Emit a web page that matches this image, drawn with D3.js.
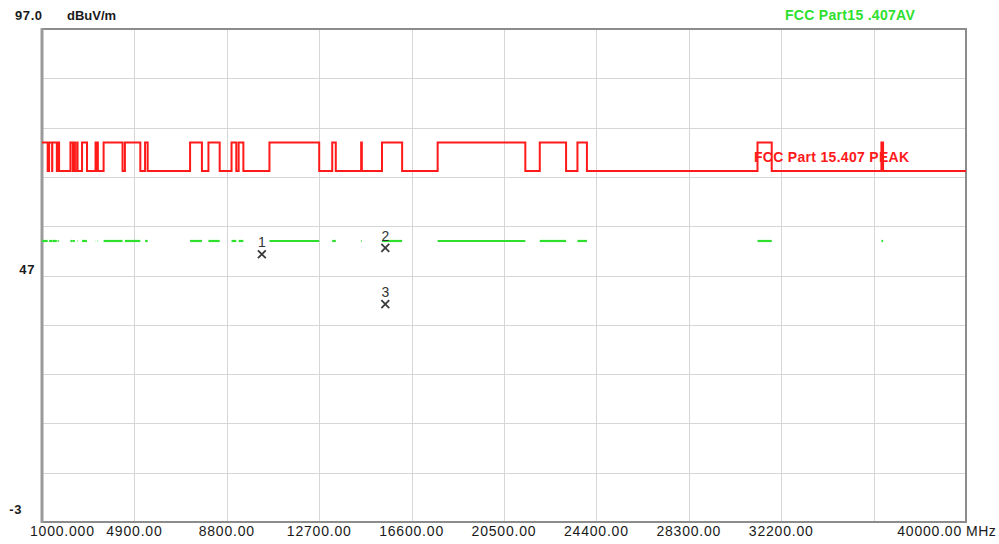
<!DOCTYPE html>
<html>
<head>
<meta charset="utf-8">
<script src="https://cdn.jsdelivr.net/npm/d3@7"></script>
<style>
  html, body { margin: 0; padding: 0; background: #fff; }
  svg { display: block; font-family: "Liberation Sans", Arial, sans-serif; }
</style>
</head>
<body>
<svg id="chart" width="999" height="544"></svg>
<script>
// Frequency axis (MHz) and level axis (dBuV/m)
const freqDomain = [1000, 40000];
const levelDomain = [-3, 97];
const freqTicks = [1000, 4900, 8800, 12700, 16600, 20500, 24400, 28300, 32200, 36100, 40000];
const freqTickLabels = ["1000.000", "4900.00", "8800.00", "12700.00", "16600.00", "20500.00", "24400.00", "28300.00", "32200.00", "", "40000.00"];
const levelGrid = [87, 77, 67, 57, 47, 37, 27, 17, 7];
const levelTicks = [97, 47, -3];
const levelTickLabels = ["97.0", "47", "-3"];

// Restricted bands (MHz) where the tighter limits apply
const restrictedStart = [960, 1300, 1435, 1645.5, 1660, 1718.8, 2200, 2310, 2483.5, 2690, 3260, 3332, 3345.8, 3600, 4500, 5350, 7250, 8025, 9000, 9300, 10600, 13250, 14470, 15350, 17700, 22010, 23600, 31200, 36430];
const restrictedEnd   = [1240, 1427, 1626.5, 1646.5, 1710, 1722.2, 2300, 2390, 2500, 2900, 3267, 3339, 3358, 4400, 5150, 5460, 7750, 8500, 9200, 9500, 12700, 13400, 14500, 16200, 21400, 23120, 24000, 31800, 36500];

// Limit levels (dBuV/m)
const peakRestricted = 74;
const peakOther = 68.2;
const avgRestricted = 54;

// Measured markers
const markerIds = ["1", "2", "3"];
const markerFreq = [10280, 15490, 15490];
const markerLevel = [51.3, 52.6, 41.2];

const svg = d3.select("#chart");
const plot = { left: 42, right: 966, top: 29, bottom: 522 };

const x = d3.scaleLinear().domain(freqDomain).range([plot.left, plot.right]);
const y = d3.scaleLinear().domain(levelDomain).range([plot.bottom, plot.top]);

// Grid
const grid = svg.append("g").attr("stroke", "#d6d6d6").attr("stroke-width", 1);
grid.selectAll("line.v").data(freqTicks.slice(1, -1)).join("line")
  .attr("x1", d => Math.round(x(d)) + 0.5).attr("x2", d => Math.round(x(d)) + 0.5)
  .attr("y1", plot.top).attr("y2", plot.bottom);
grid.selectAll("line.h").data(levelGrid).join("line")
  .attr("x1", plot.left).attr("x2", plot.right)
  .attr("y1", d => Math.round(y(d)) + 0.5).attr("y2", d => Math.round(y(d)) + 0.5);

// Frame
svg.append("rect")
  .attr("x", plot.left).attr("y", plot.top)
  .attr("width", plot.right - plot.left).attr("height", plot.bottom - plot.top)
  .attr("fill", "none").attr("stroke", "#8c8c8c").attr("stroke-width", 2);
svg.append("line")
  .attr("x1", plot.left).attr("x2", plot.left)
  .attr("y1", plot.top - 1).attr("y2", plot.bottom + 1)
  .attr("stroke", "#9a9a9a").attr("stroke-width", 3);

// Bands clipped to the sweep range
const bands = restrictedStart.map((s, i) => [Math.max(s, freqDomain[0]), Math.min(restrictedEnd[i], freqDomain[1])])
  .filter(b => b[1] > b[0]);

// Peak limit as a stepped trace
const peakPts = [];
let cur = freqDomain[0];
bands.forEach(([s, e]) => {
  if (s > cur) {
    peakPts.push([cur, peakOther], [s, peakOther]);
  }
  peakPts.push([s, peakRestricted], [e, peakRestricted]);
  cur = e;
});
peakPts.push([cur, peakOther], [freqDomain[1], peakOther]);

const line = d3.line().x(d => x(d[0])).y(d => y(d[1]));
svg.append("path")
  .attr("d", line(peakPts))
  .attr("fill", "none").attr("stroke", "#ff1a1a").attr("stroke-width", 2)
  .attr("stroke-linejoin", "miter");

// Average limit only exists inside restricted bands
svg.append("g").selectAll("line").data(bands).join("line")
  .attr("x1", d => x(d[0])).attr("x2", d => x(d[1]))
  .attr("y1", y(avgRestricted)).attr("y2", y(avgRestricted))
  .attr("stroke", "#2ee02e").attr("stroke-width", 2.2);

// Markers
const markers = markerIds.map((id, i) => ({ id, f: markerFreq[i], v: markerLevel[i] }));
const mg = svg.append("g").selectAll("g").data(markers).join("g")
  .attr("transform", d => `translate(${x(d.f)},${y(d.v)})`);
mg.append("path")
  .attr("d", d3.symbol(d3.symbolTimes, 42)())
  .attr("fill", "none").attr("stroke", "#3a3a3a").attr("stroke-width", 1.8);
mg.append("text")
  .attr("y", -7).attr("text-anchor", "middle")
  .attr("font-size", 14).attr("fill", "#333")
  .text(d => d.id);

// Axis labels
const xl = svg.append("g").attr("font-size", 14).attr("fill", "#1a1a1a").attr("letter-spacing", 0.8);
xl.selectAll("text").data(freqTicks.map((f, i) => ({ f, t: freqTickLabels[i], i }))).join("text")
  .attr("x", d => d.i === 0 ? 30 : (d.i === freqTicks.length - 1 ? x(d.f) - 4 : x(d.f)))
  .attr("y", 536)
  .attr("text-anchor", d => d.i === 0 ? "start" : (d.i === freqTicks.length - 1 ? "end" : "middle"))
  .text(d => d.t);
svg.append("text").attr("x", 966).attr("y", 536)
  .attr("font-size", 14).attr("fill", "#1a1a1a").attr("letter-spacing", 0.5)
  .text("MHz");

const yl = svg.append("g").attr("font-size", 13).attr("font-weight", "bold").attr("fill", "#1a1a1a");
yl.selectAll("text").data(levelTicks.map((v, i) => ({ v, t: levelTickLabels[i], i }))).join("text")
  .attr("x", d => d.i === 0 ? 15 : (d.i === 1 ? 35 : 22))
  .attr("y", d => d.i === 0 ? 20 : (d.i === 1 ? y(d.v) - 2 : y(d.v) - 8))
  .attr("text-anchor", d => d.i === 0 ? "start" : "end")
  .attr("letter-spacing", 0.6)
  .text(d => d.t);
svg.append("text").attr("x", 67).attr("y", 20)
  .attr("font-size", 13).attr("font-weight", "bold").attr("fill", "#1a1a1a")
  .text("dBuV/m");

// Limit captions
svg.append("text").attr("x", 754).attr("y", 162)
  .attr("font-size", 14).attr("font-weight", "bold").attr("fill", "#ff1a1a")
  .attr("letter-spacing", 0.3)
  .text("FCC Part 15.407 PEAK");
svg.append("text").attr("x", 785).attr("y", 20)
  .attr("font-size", 14).attr("font-weight", "bold").attr("fill", "#2ee02e")
  .attr("letter-spacing", 0.3)
  .text("FCC Part15 .407AV");
</script>
</body>
</html>
